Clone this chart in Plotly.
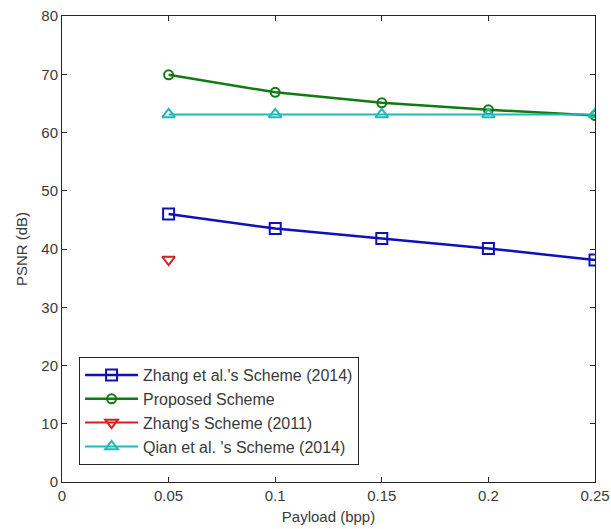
import plotly.graph_objects as go

payload = [0.05, 0.1, 0.15, 0.2, 0.25]
zhang2014 = [46.0, 43.5, 41.8, 40.1, 38.1]
proposed = [69.9, 66.9, 65.1, 63.9, 62.9]
zhang2011 = [38.2, None, None, None, None]
qian2014 = [63.1, 63.1, 63.1, 63.1, 63.1]

names = ["Zhang et al.'s Scheme (2014)", "Proposed Scheme",
         "Zhang's Scheme (2011)", "Qian et al. 's Scheme (2014)"]

x_ticks = [0, 0.05, 0.1, 0.15, 0.2, 0.25]
x_ticklabels = ["0", "0.05", "0.1", "0.15", "0.2", "0.25"]
y_ticks = [0, 10, 20, 30, 40, 50, 60, 70, 80]

TXT = "#3a3a3a"

fig = go.Figure()
fig.add_trace(go.Scatter(x=payload, y=zhang2014, name=names[0], mode="lines+markers",
                         line=dict(color="#1010B8", width=2.5),
                         marker=dict(symbol="square-open", size=11, line=dict(width=2, color="#1010B8")),
                         legendgroup="a"))
fig.add_trace(go.Scatter(x=payload, y=proposed, name=names[1], mode="lines+markers",
                         line=dict(color="#117A11", width=2.5),
                         marker=dict(symbol="circle-open", size=9, line=dict(width=2, color="#117A11")),
                         legendgroup="b"))
fig.add_trace(go.Scatter(x=payload, y=zhang2011, name=names[2], mode="lines+markers",
                         line=dict(color="#D81E1E", width=2),
                         marker=dict(symbol="triangle-down-open", size=11, line=dict(width=2, color="#D81E1E")),
                         legendgroup="c"))
fig.add_trace(go.Scatter(x=payload, y=qian2014, name=names[3], mode="lines+markers",
                         line=dict(color="#22B8B8", width=2),
                         marker=dict(symbol="triangle-up-open", size=11, line=dict(width=2, color="#22B8B8")),
                         legendgroup="d"))

axis_common = dict(showline=True, linecolor="#262626", linewidth=1, mirror="ticks",
                   ticks="inside", ticklen=5, tickcolor="#262626", showgrid=False,
                   zeroline=False, automargin=False, ticklabeloverflow="allow",
                   tickfont=dict(size=15, color=TXT))

fig.update_layout(
    width=611, height=529,
    margin=dict(l=62, r=16, t=16, b=47, autoexpand=False),
    paper_bgcolor="white", plot_bgcolor="white",
    font=dict(family="Liberation Sans, Arial, sans-serif", size=15, color=TXT),
    xaxis=dict(range=[0, 0.25], tickvals=x_ticks, ticktext=x_ticklabels,
               title=dict(text="Payload (bpp)", standoff=8, font=dict(size=15, color=TXT)), **axis_common),
    yaxis=dict(range=[0, 80], tickvals=y_ticks,
               title=dict(text="PSNR (dB)", standoff=10, font=dict(size=15, color=TXT)), **axis_common),
    legend=dict(x=0.032, y=0.268, xanchor="left", yanchor="top",
                bordercolor="#262626", borderwidth=1, bgcolor="white",
                font=dict(size=16, color=TXT), tracegroupgap=0,
                itemwidth=53),
    showlegend=True,
)

fig.write_html("out.html", config={"displayModeBar": False},
               post_script="document.body.style.margin='0';document.body.style.overflow='hidden';")
